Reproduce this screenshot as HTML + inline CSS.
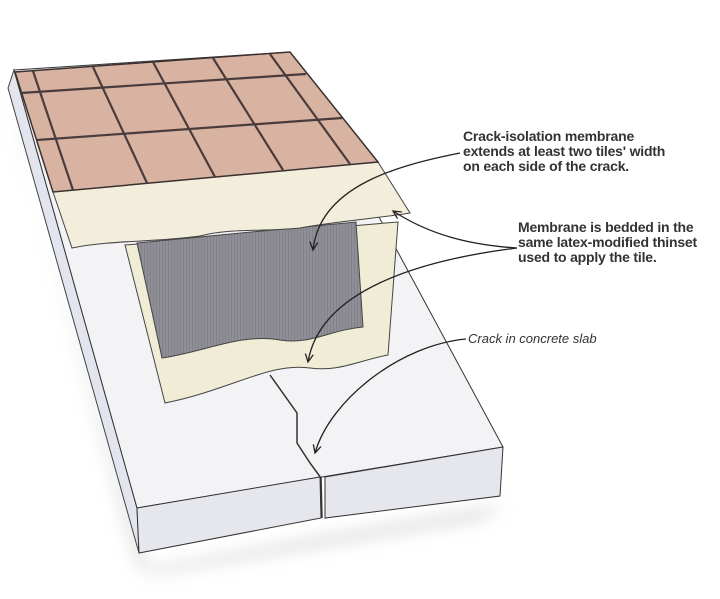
<!DOCTYPE html>
<html><head><style>
body{margin:0;background:#fff;width:720px;height:599px;overflow:hidden}
.t{position:absolute;font-family:"Liberation Sans",sans-serif;font-size:14px;font-weight:bold;color:#333;line-height:15px;letter-spacing:-0.2px;white-space:nowrap}
</style></head><body>
<svg width="720" height="599" style="position:absolute;left:0;top:0">
<defs>
<filter id="b" x="-20%" y="-20%" width="140%" height="140%"><feGaussianBlur stdDeviation="8"/></filter>
<marker id="a" markerWidth="10" markerHeight="10" refX="8" refY="5" orient="auto" markerUnits="userSpaceOnUse"><path d="M0,1 L8,5 L0,9" fill="none" stroke="#222" stroke-width="1.3"/></marker>
<pattern id="g" width="3" height="3" patternUnits="userSpaceOnUse"><rect width="3" height="3" fill="#908e96"/><rect width="1" height="3" fill="#83818a"/></pattern>
</defs>
<polygon points="10,95 130,540 140,570 330,535 505,505 480,520 150,575 20,140" fill="#bbb" opacity="0.5" filter="url(#b)"/>
<polygon points="14,70 137,508 139,553 8,88" fill="#e2e5ee" stroke="#444" stroke-width="1"/>
<polygon points="14,70 290,52 503,447 322,477 137,508" fill="#f3f3f6" stroke="#333" stroke-width="1"/>
<polygon points="137,508 320,477 321,518 139,553" fill="#e6e7ec" stroke="#333" stroke-width="1"/>
<polygon points="325,477 503,447 500,496 325,518" fill="#e6e7ec" stroke="#333" stroke-width="1"/>
<path d="M125,245 L398,222 L388,355 C360,360 340,372 310,368 C270,362 230,390 165,403 Z" fill="#f1ecd6" stroke="#444" stroke-width="1"/>
<path d="M137,243 L356,222 L363,327 C330,330 310,345 280,340 C240,333 205,352 162,358 Z" fill="url(#g)" stroke="#444" stroke-width="1"/>
<path d="M53,192 L378,162 L410,213 C380,218 330,222 300,228 C260,232 230,228 200,236 C160,242 110,240 72,248 Z" fill="#f3eedb" stroke="#444" stroke-width="1"/>
<polygon points="15,72 290,52 378,162 53,192" fill="#d8b3a2" stroke="#3a3030" stroke-width="1.5"/>
<g stroke="#4a3c3c" stroke-width="2.2">
<line x1="33" y1="71" x2="73" y2="190"/>
<line x1="93" y1="67" x2="147" y2="183"/>
<line x1="153" y1="62" x2="215" y2="177"/>
<line x1="213" y1="58" x2="283" y2="170"/>
<line x1="270" y1="54" x2="350" y2="164"/>
<line x1="21" y1="93" x2="306" y2="74"/>
<line x1="37" y1="140" x2="342" y2="118"/>
</g>
<polyline points="270,375 297,413 297,443 310,463 321,478 322,518" fill="none" stroke="#333" stroke-width="1.5"/>
<g fill="none" stroke="#222" stroke-width="1.3">
<path d="M460,153 C400,165 320,185 313,250" marker-end="url(#a)"/>
<path d="M517,248 C470,245 430,235 393,211" marker-end="url(#a)"/>
<path d="M517,248 C420,260 320,290 308,362" marker-end="url(#a)"/>
<path d="M466,339 C400,345 330,400 315,453" marker-end="url(#a)"/>
</g>
</svg>
<div class="t" style="left:463px;top:129px">Crack-isolation membrane<br>extends at least two tiles' width<br>on each side of the crack.</div>
<div class="t" style="left:518px;top:220px">Membrane is bedded in the<br>same latex-modified thinset<br>used to apply the tile.</div>
<div class="t" style="left:468px;top:331px;font-style:italic;font-weight:normal;font-size:13px;letter-spacing:0">Crack in concrete slab</div>
</body></html>
